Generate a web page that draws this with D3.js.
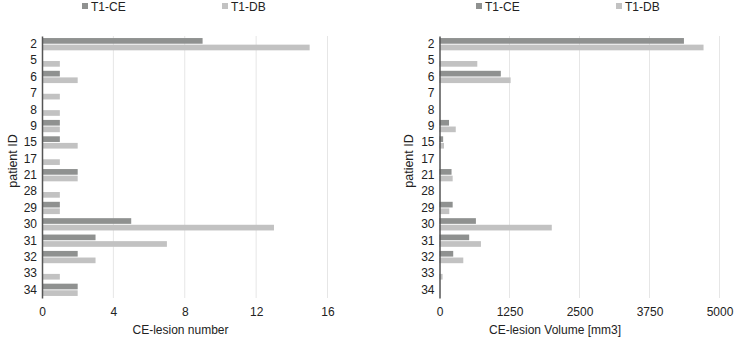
<!DOCTYPE html>
<html>
<head>
<meta charset="utf-8">
<script src="https://cdn.jsdelivr.net/npm/d3@7"></script>
<style>
  body { margin: 0; background: #fff; }
  text { font-family: "Liberation Sans", Arial, Helvetica, sans-serif; }
</style>
</head>
<body>
<svg id="chart" width="740" height="345"></svg>
<script>
// patient IDs (top to bottom)
var patients = ['2', '5', '6', '7', '8', '9', '15', '17', '21', '28', '29', '30', '31', '32', '33', '34'];
var seriesNames = ['T1-CE', 'T1-DB'];

// lesion counts
var countCE = [9, 0, 1, 0, 0, 1, 1, 0, 2, 0, 1, 5, 3, 2, 0, 2];
var countDB = [15, 1, 2, 1, 1, 1, 2, 1, 2, 1, 1, 13, 7, 3, 1, 2];
var countTicks = [0, 4, 8, 12, 16];

// lesion volumes (mm3)
var volCE = [4365, 0, 1095, 0, 0, 170, 65, 0, 215, 0, 235, 650, 530, 245, 0, 0];
var volDB = [4715, 675, 1270, 0, 0, 290, 80, 0, 235, 0, 175, 2005, 740, 425, 55, 0];
var volTicks = [0, 1250, 2500, 3750, 5000];

var colors = { 'T1-CE': '#8f9190', 'T1-DB': '#c2c2c2' };

var svg = d3.select('#chart');

function panel(opt) {
  var g = svg.append('g');

  var x = d3.scaleLinear().domain([0, opt.max]).range([opt.left, opt.right]);
  var y0 = d3.scaleBand().domain(patients).range([36, 298])
    .paddingInner(0.25).paddingOuter(0.125);
  var y1 = d3.scaleBand().domain(seriesNames).range([0, y0.bandwidth()]).paddingInner(0.14);

  // grid
  g.selectAll('.grid').data(opt.ticks.slice(1)).enter().append('line')
    .attr('x1', function (d) { return x(d); })
    .attr('x2', function (d) { return x(d); })
    .attr('y1', 36).attr('y2', 298)
    .attr('stroke', '#e6e6e6').attr('stroke-width', 1);

  var rows = patients.map(function (p, i) {
    return { id: p, vals: [opt.a[i], opt.b[i]] };
  });

  var grp = g.selectAll('.row').data(rows).enter().append('g')
    .attr('transform', function (d) { return 'translate(0,' + y0(d.id) + ')'; });

  grp.selectAll('rect').data(function (d) {
    return seriesNames.map(function (s, j) { return { s: s, v: d.vals[j] }; });
  }).enter().append('rect')
    .attr('x', x(0))
    .attr('y', function (d) { return y1(d.s); })
    .attr('height', y1.bandwidth())
    .attr('width', function (d) { return x(d.v) - x(0); })
    .attr('fill', function (d) { return colors[d.s]; });

  // y axis
  var yAxis = d3.axisLeft(y0).tickSize(0).tickPadding(5);
  var ya = g.append('g').attr('transform', 'translate(' + x(0) + ',0)').call(yAxis);
  ya.select('.domain').attr('stroke', '#555').attr('stroke-width', 1.5);
  ya.selectAll('text').attr('font-size', 12).attr('fill', '#222')
    .attr('font-family', '"Liberation Sans", Arial, sans-serif');

  // x axis
  var xAxis = d3.axisBottom(x).tickValues(opt.ticks).tickFormat(d3.format('d'))
    .tickSize(0).tickPadding(9);
  var xa = g.append('g').attr('transform', 'translate(0,298)').call(xAxis);
  xa.select('.domain').remove();
  xa.selectAll('text').attr('font-size', 12).attr('fill', '#222')
    .attr('font-family', '"Liberation Sans", Arial, sans-serif');

  // titles
  g.append('text').attr('x', opt.titleX).attr('y', 334)
    .attr('text-anchor', 'middle').attr('font-size', 12).attr('fill', '#222')
    .text(opt.title);
  g.append('text')
    .attr('transform', 'translate(' + (opt.yTitleX) + ',161) rotate(-90)')
    .attr('text-anchor', 'middle').attr('font-size', 12.5).attr('fill', '#222')
    .text('patient ID');

  // legend
  var lg = g.selectAll('.leg').data(seriesNames).enter().append('g')
    .attr('transform', function (d, i) { return 'translate(' + opt.legX[i] + ',0)'; });
  lg.append('rect').attr('x', 0).attr('y', 3).attr('width', 6).attr('height', 6)
    .attr('fill', function (d) { return colors[d]; });
  lg.append('text').attr('x', 9).attr('y', 10.5).attr('font-size', 12).attr('fill', '#222')
    .text(function (d) { return d; });
}

panel({ a: countCE, b: countDB, max: 16, ticks: countTicks, left: 42, right: 327.5,
  title: 'CE-lesion number', titleX: 180.5, yTitleX: 16.5, legX: [82, 222] });
panel({ a: volCE, b: volDB, max: 5000, ticks: volTicks, left: 439.5, right: 719.5,
  title: 'CE-lesion Volume [mm3]', titleX: 555, yTitleX: 413, legX: [476, 616] });
</script>
</body>
</html>
